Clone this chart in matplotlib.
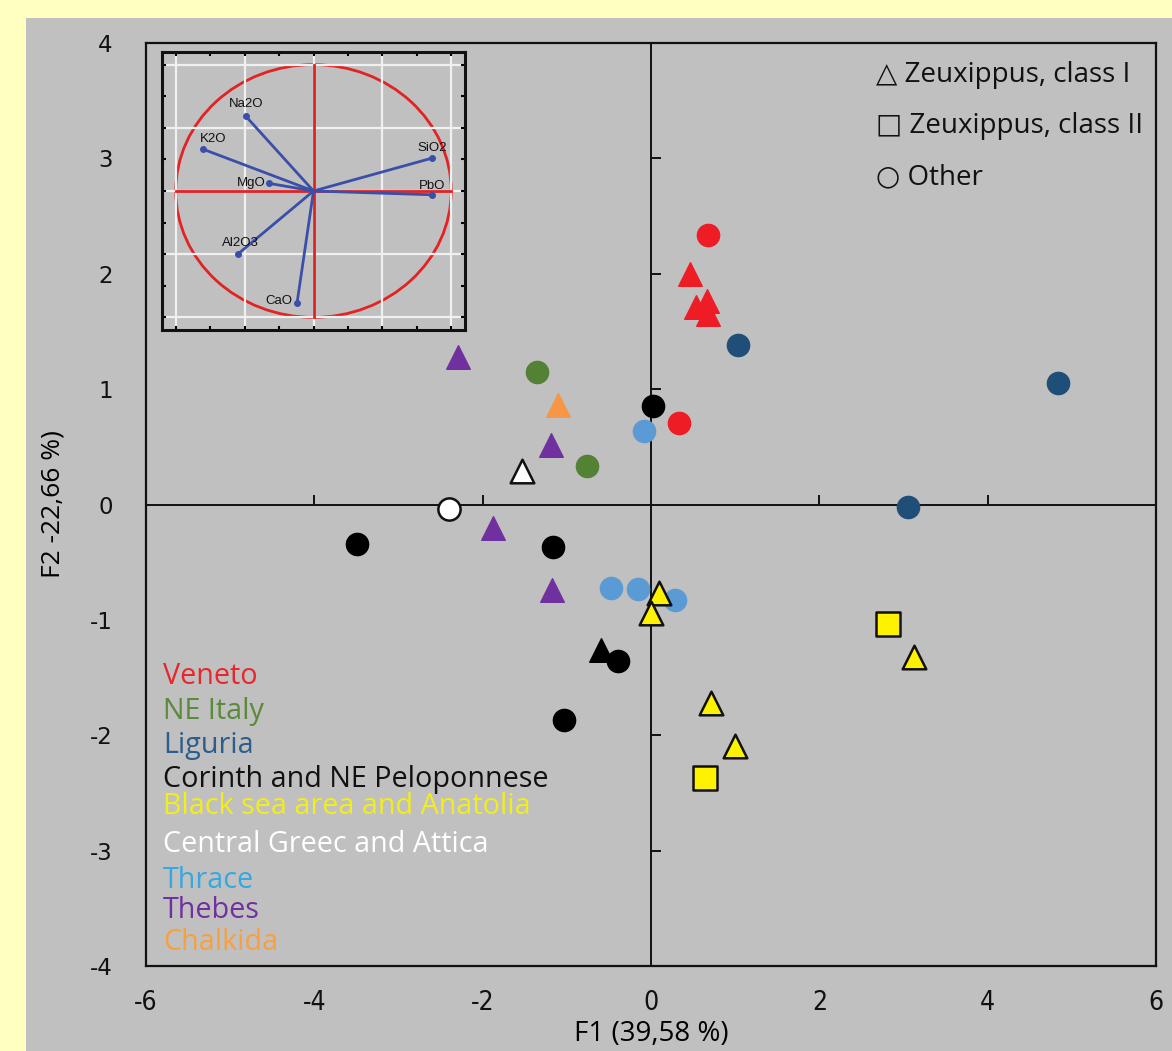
import numpy as np
import matplotlib.pyplot as plt
from matplotlib.patches import Rectangle, Ellipse

plt.rcParams['axes.unicode_minus'] = False

# Data (F1, F2 scores)
veneto_circ_x = [0.68, 0.33]
veneto_circ_y = [2.34, 0.71]
veneto_tri_x = [0.46, 0.54, 0.67, 0.68]
veneto_tri_y = [2.00, 1.71, 1.76, 1.65]

neitaly_x = [-1.36, -0.76]
neitaly_y = [1.15, 0.33]

liguria_x = [1.03, 4.84, 3.05]
liguria_y = [1.38, 1.05, -0.02]

corinth_circ_x = [0.02, -3.49, -1.17, -0.39, -1.03]
corinth_circ_y = [0.85, -0.34, -0.37, -1.36, -1.87]
corinth_tri_x = [-0.59]
corinth_tri_y = [-1.26]

blacksea_tri_x = [0.10, 0.00, 0.71, 1.00, 3.12]
blacksea_tri_y = [-0.77, -0.94, -1.72, -2.09, -1.32]
blacksea_sq_x = [2.81, 0.64]
blacksea_sq_y = [-1.04, -2.37]

central_tri_x = [-1.53]
central_tri_y = [0.29]
central_circ_x = [-2.40]
central_circ_y = [-0.04]

thrace_x = [-0.08, -0.48, -0.15, 0.28]
thrace_y = [0.64, -0.72, -0.73, -0.83]

thebes_x = [-2.29, -1.19, -1.88, -1.18]
thebes_y = [1.28, 0.52, -0.20, -0.74]

chalkida_x = [-1.11]
chalkida_y = [0.86]

# loading vectors for the correlation circle
oxides = ['Na2O', 'K2O', 'MgO', 'Al2O3', 'CaO', 'SiO2', 'PbO']
load_x = [-0.49, -0.80, -0.32, -0.55, -0.12, 0.86, 0.86]
load_y = [0.59, 0.33, 0.06, -0.50, -0.89, 0.26, -0.03]

group_names = ['Veneto', 'NE Italy', 'Liguria', 'Corinth and NE Peloponnese',
               'Black sea area and Anatolia', 'Central Greec and Attica',
               'Thrace', 'Thebes', 'Chalkida']
text_colors = ['#E8262B', '#5A8A3A', '#2B5E8E', '#111111', '#F2EE1C',
               '#FFFFFF', '#35A8E0', '#7030A0', '#F7A040']

red = '#EE1C25'
green = '#548235'
dblue = '#1F4E79'
lblue = '#5B9BD5'
purple = '#7030A0'
orange = '#F79646'
yellow = '#FFF200'
gray = '#C0C0C0'

W, H = 1172, 1051
fig = plt.figure(figsize=(W / 100, H / 100), dpi=100, facecolor='#FFFFBF')
fig.patches.append(Rectangle((26 / W, 0), 1 - 26 / W, 1 - 18 / H,
                             transform=fig.transFigure, facecolor=gray,
                             edgecolor='none', zorder=-10))

ax = fig.add_axes([146 / W, 1 - 966 / H, (1156 - 146) / W, (966 - 43) / H])
ax.set_facecolor(gray)
ax.set_xlim(-6, 6)
ax.set_ylim(-4, 4)
for s in ax.spines.values():
    s.set_linewidth(1.6)
    s.set_color('#111111')

ax.set_xticks(range(-6, 7, 2))
ax.set_yticks(range(-4, 5))
ax.set_yticklabels([str(v) for v in range(-4, 5)])
ax.tick_params(axis='both', length=0)
ax.tick_params(axis='y', pad=24, labelsize=16.5, labelcolor='#111111')
ax.tick_params(axis='x', pad=17, labelsize=19, labelcolor='#111111')
for lab in ax.get_xticklabels():
    lab.set_family(['Liberation Sans Narrow', 'DejaVu Sans'])
    lab.set_fontstretch('condensed')

ax.set_xlabel('F1 (39,58 %)', fontsize=20, family='Open Sans', va='center')
ax.xaxis.set_label_coords(0.5, (966 - 1034) / (966 - 43))
ax.set_ylabel('F2 -22,66 %)', fontsize=19, family='Open Sans')
ax.yaxis.set_label_coords((65 - 146) / (1156 - 146), 0.5)

# zero lines with small ticks on them
ax.axhline(0, color='#111111', lw=1.4, zorder=1)
ax.axvline(0, color='#111111', lw=1.4, zorder=1)
ax.plot([-4, -2, 2, 4], [0, 0, 0, 0], ls='none', marker=2, ms=7,
        mew=1.4, color='#111111', zorder=1)
ax.plot([0] * 6, [3, 2, 1, -1, -2, -3], ls='none', marker=1, ms=7,
        mew=1.4, color='#111111', zorder=1)

ms_c = 16
ms_t = 17
ms_s = 17
ax.scatter(veneto_circ_x, veneto_circ_y, s=ms_c ** 2, c=red, marker='o', zorder=3)
ax.scatter(veneto_tri_x, veneto_tri_y, s=ms_t ** 2, c=red, marker='^', zorder=3)
ax.scatter(neitaly_x, neitaly_y, s=ms_c ** 2, c=green, marker='o', zorder=3)
ax.scatter(liguria_x, liguria_y, s=ms_c ** 2, c=dblue, marker='o', zorder=3)
ax.scatter(corinth_circ_x, corinth_circ_y, s=ms_c ** 2, c='#000000', marker='o', zorder=3)
ax.scatter(corinth_tri_x, corinth_tri_y, s=ms_t ** 2, c='#000000', marker='^', zorder=3)
ax.scatter(thrace_x, thrace_y, s=ms_c ** 2, c=lblue, marker='o', zorder=3)
ax.scatter(blacksea_tri_x, blacksea_tri_y, s=ms_t ** 2, c=yellow, marker='^',
           edgecolors='#111111', linewidths=1.8, zorder=4)
ax.scatter(blacksea_sq_x, blacksea_sq_y, s=ms_s ** 2, c=yellow, marker='s',
           edgecolors='#111111', linewidths=1.8, zorder=4)
ax.scatter(central_tri_x, central_tri_y, s=ms_t ** 2, c='white', marker='^',
           edgecolors='#111111', linewidths=1.8, zorder=4)
ax.scatter(central_circ_x, central_circ_y, s=ms_c ** 2, c='white', marker='o',
           edgecolors='#111111', linewidths=1.8, zorder=4)
ax.scatter(thebes_x, thebes_y, s=ms_t ** 2, c=purple, marker='^', zorder=3)
ax.scatter(chalkida_x, chalkida_y, s=ms_t ** 2, c=orange, marker='^', zorder=3)

# shape legend (top right)
shape_labels = ['\u25b3 Zeuxippus, class I', '\u25a1 Zeuxippus, class II', '\u25cb Other']
for i, t in enumerate(shape_labels):
    fig.text(876 / W, 1 - (75 + 51 * i) / H, t, fontsize=20,
             family=['Open Sans', 'DejaVu Sans'], color='#111111', va='center')

# region legend (bottom left), coloured words
legend_y = [677, 711, 745, 779, 806, 845, 880, 911, 942]
for name, col, py in zip(group_names, text_colors, legend_y):
    fig.text(163 / W, 1 - py / H, name, color=col, fontsize=20.7,
             family='Open Sans', va='center')

# inset: correlation circle
ins = fig.add_axes([162 / W, 1 - 330 / H, (465 - 162) / W, (330 - 52) / H])
ins.set_facecolor(gray)
ins.set_xlim(-1.1, 1.1)
ins.set_ylim(-1.1, 1.1)
ins.set_xticks([-1, -0.5, 0, 0.5, 1])
ins.set_yticks([-1, -0.5, 0, 0.5, 1])
ins.set_xticks(np.arange(-1, 1.01, 0.25), minor=True)
ins.set_yticks(np.arange(-1, 1.01, 0.25), minor=True)
ins.grid(True, color='#F0F0F0', lw=1.6)
ins.tick_params(which='both', direction='in', top=True, right=True,
                labelbottom=False, labelleft=False, length=3, width=1.5)
for s in ins.spines.values():
    s.set_linewidth(2.2)
    s.set_color('#111111')
ins.add_patch(Ellipse((0, 0), 2, 2, fill=False, edgecolor='#E32222', lw=2))
ins.plot([-1, 1], [0, 0], color='#E32222', lw=2)
ins.plot([0, 0], [-1, 1], color='#E32222', lw=2)
for name, lx, ly in zip(oxides, load_x, load_y):
    ins.plot([0, lx], [0, ly], color='#3B4FA8', lw=2, zorder=3)
    ins.plot([lx], [ly], 'o', color='#3B4FA8', ms=4, zorder=3)
label_off = {'Na2O': (0, 0.1, 'center'), 'K2O': (0.07, 0.08, 'center'),
             'MgO': (-0.03, 0, 'right'), 'Al2O3': (0.02, 0.09, 'center'),
             'CaO': (-0.03, 0.02, 'right'), 'SiO2': (0.0, 0.08, 'center'),
             'PbO': (0.0, 0.07, 'center')}
for name, lx, ly in zip(oxides, load_x, load_y):
    dx, dy, ha = label_off[name]
    ins.text(lx + dx, ly + dy, name, fontsize=9.5, ha=ha, va='center',
             family='Liberation Sans', color='#111111', zorder=4)

fig.savefig('out.png', dpi=100, facecolor=fig.get_facecolor())
